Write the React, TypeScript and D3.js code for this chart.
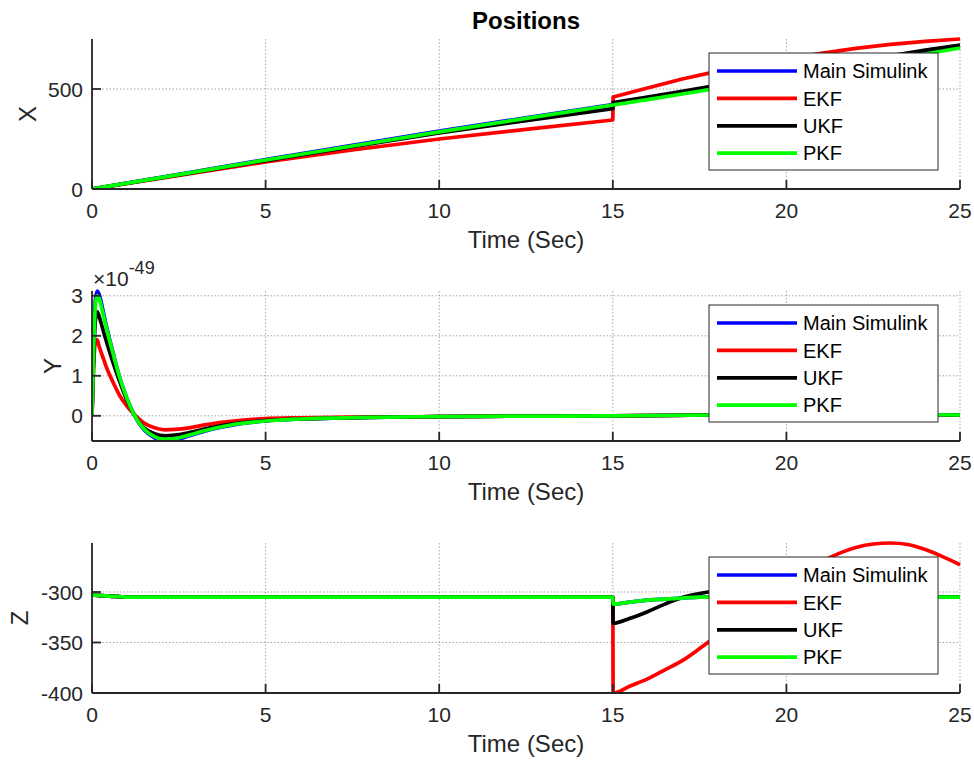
import React from 'react';
import * as d3 from 'd3';

// series names + colours (MATLAB default-ish)
const seriesNames = ['Main Simulink', 'EKF', 'UKF', 'PKF'];
const seriesColors = ['#0000ff', '#ff0000', '#000000', '#00ff00'];

const xTicks = [0, 5, 10, 15, 20, 25];

// X position
const tX = [0, 2.5, 5, 7.5, 10, 12.5, 15, 15.01, 16, 17, 18, 19, 20, 21, 22, 23, 24, 25];
const xMain = [0, 73, 147, 218, 290, 356, 422, 422, 450, 479, 508, 537, 566, 595, 624, 653, 682, 712];
const xEKF = [0, 68, 135, 195, 250, 298, 345, 460, 505, 550, 588, 620, 650, 678, 703, 723, 738, 750];
const xUKF = [0, 71, 142, 212, 280, 342, 402, 432, 460, 489, 518, 548, 578, 608, 637, 666, 694, 720];
const xPKF = [0, 72, 145, 215, 286, 353, 420, 420, 447, 475, 503, 531, 559, 588, 617, 646, 675, 705];

// Y position (x1e-49)
const tY = [0, 0.05, 0.1, 0.15, 0.2, 0.3, 0.4, 0.6, 0.8, 1.0, 1.2, 1.5, 1.8, 2.1, 2.4, 2.8, 3.3, 4, 5, 6, 8, 10, 12, 15, 18, 20, 22, 25];
const yMain = [0, 1.8, 2.9, 3.12, 3.05, 2.7, 2.3, 1.6, 0.95, 0.45, 0.05, -0.35, -0.55, -0.63, -0.6, -0.5, -0.37, -0.24, -0.13, -0.08, -0.04, -0.02, -0.01, 0, 0.02, 0.04, 0.04, 0.02];
const yEKF = [0, 1.3, 1.85, 1.9, 1.75, 1.5, 1.25, 0.85, 0.5, 0.25, 0.05, -0.18, -0.3, -0.35, -0.34, -0.3, -0.22, -0.14, -0.07, -0.05, -0.03, -0.02, -0.01, 0, 0.02, 0.04, 0.04, 0.02];
const yUKF = [0, 1.5, 2.4, 2.6, 2.5, 2.2, 1.9, 1.35, 0.85, 0.4, 0.05, -0.3, -0.45, -0.5, -0.48, -0.42, -0.32, -0.21, -0.12, -0.08, -0.04, -0.02, -0.01, 0, 0.02, 0.04, 0.04, 0.02];
const yPKF = [0, 1.7, 2.8, 3.0, 2.95, 2.62, 2.25, 1.58, 0.95, 0.45, 0.05, -0.33, -0.52, -0.59, -0.57, -0.48, -0.36, -0.23, -0.13, -0.08, -0.04, -0.02, -0.01, 0, 0.02, 0.04, 0.04, 0.02];

// Z position
const tZ = [0, 0.5, 1, 5, 10, 15, 15.01, 15.5, 16, 16.5, 17, 17.5, 18, 18.5, 19, 19.5, 20, 20.5, 21, 21.5, 22, 22.5, 23, 23.5, 24, 24.5, 25];
const zMain = [-303, -304, -305, -305, -305, -305, -312, -310, -308, -307, -306, -305, -305, -305, -305, -305, -305, -305, -305, -305, -305, -305, -305, -305, -305, -305, -305];
const zEKF = [-303, -304, -305, -305, -305, -305, -400, -393, -386, -377, -368, -356, -343, -329, -315, -302, -290, -279, -270, -262, -256, -252.5, -251.5, -253, -258, -265, -273];
const zUKF = [-303, -304, -305, -305, -305, -305, -331, -326, -319.5, -312, -305.5, -301.5, -299, -298, -299, -301, -303, -304.5, -305, -305, -305, -305, -305, -305, -305, -305, -305];
const zPKF = [-303, -304, -305, -305, -305, -305, -312, -310, -308, -307, -306, -305, -305, -305, -305, -305, -305, -305, -305, -305, -305, -305, -305, -305, -305, -305, -305];

const W = 974, H = 761;
const left = 92, right = 960, plotH = 150;
const font = '"Liberation Sans", Arial, Helvetica, sans-serif';
const axisColor = '#262626';

type PlotDef = {
  top: number;
  t: number[];
  series: number[][];
  domain: [number, number];
  yTicks: number[];
  label: string;
  labelX: number;
  curve: any;
  exponent?: boolean;
};

const plots: PlotDef[] = [
  { top: 39, t: tX, series: [xMain, xEKF, xUKF, xPKF], domain: [0, 750], yTicks: [0, 500], label: 'X', labelX: 28, curve: d3.curveLinear },
  { top: 291, t: tY, series: [yMain, yEKF, yUKF, yPKF], domain: [-0.63, 3.12], yTicks: [0, 1, 2, 3], label: 'Y', labelX: 53, curve: d3.curveMonotoneX, exponent: true },
  { top: 543, t: tZ, series: [zMain, zEKF, zUKF, zPKF], domain: [-400, -251.5], yTicks: [-400, -350, -300], label: 'Z', labelX: 20, curve: d3.curveMonotoneX },
];

function Plot({ p, idx }: { p: PlotDef; idx: number }) {
  const bottom = p.top + plotH;
  const x = d3.scaleLinear().domain([0, 25]).range([left, right]);
  const y = d3.scaleLinear().domain(p.domain).range([bottom, p.top]);
  const clipId = 'clip' + idx;
  const line = d3.line<number>()
    .x((_, i) => x(p.t[i]))
    .curve(p.curve);

  const lgX = 709, lgY = p.top + 14, lgW = 229, lgH = 117;

  return (
    <g>
      <defs>
        <clipPath id={clipId}>
          <rect x={left} y={p.top - 2} width={right - left + 2} height={plotH + 2} />
        </clipPath>
      </defs>
      {/* grid */}
      {xTicks.map(t => (
        <line key={'gx' + t} x1={x(t)} x2={x(t)} y1={p.top} y2={bottom}
          stroke="#a6a6a6" strokeWidth={1} strokeDasharray="1.5,2" />
      ))}
      {p.yTicks.map(v => (
        <line key={'gy' + v} x1={left} x2={right} y1={y(v)} y2={y(v)}
          stroke="#a6a6a6" strokeWidth={1} strokeDasharray="1.5,2" />
      ))}
      {/* data */}
      <g clipPath={`url(#${clipId})`}>
        {p.series.map((s, i) => (
          <path key={i} d={line.y((d) => y(d))(s) || ''} fill="none"
            stroke={seriesColors[i]} strokeWidth={3.7} strokeLinejoin="round" />
        ))}
      </g>
      {/* axes */}
      <line x1={left} x2={right} y1={bottom} y2={bottom} stroke={axisColor} strokeWidth={1.8} />
      <line x1={left} x2={left} y1={p.top} y2={bottom} stroke={axisColor} strokeWidth={1.8} />
      {xTicks.map(t => (
        <g key={'tx' + t}>
          <line x1={x(t)} x2={x(t)} y1={bottom} y2={bottom - 9} stroke={axisColor} strokeWidth={1.8} />
          <text x={x(t)} y={bottom + 29} textAnchor="middle" fontSize={21} fill={axisColor} fontFamily={font}>{t}</text>
        </g>
      ))}
      {p.yTicks.map(v => (
        <g key={'ty' + v}>
          <line x1={left} x2={left + 9} y1={y(v)} y2={y(v)} stroke={axisColor} strokeWidth={1.8} />
          <text x={left - 9} y={y(v)} dy="0.36em" textAnchor="end" fontSize={21} fill={axisColor} fontFamily={font}>{v}</text>
        </g>
      ))}
      <text x={(left + right) / 2} y={bottom + 59} textAnchor="middle" fontSize={24} fill={axisColor} fontFamily={font}>Time (Sec)</text>
      <text transform={`translate(${p.labelX},${p.top + plotH / 2}) rotate(-90)`} textAnchor="middle" dy="0.35em"
        fontSize={24} fill={axisColor} fontFamily={font}>{p.label}</text>
      {p.exponent && (
        <text x={93} y={p.top - 5} fontSize={21} fill={axisColor} fontFamily={font}>
          ×10<tspan dy={-12} fontSize={18}>-49</tspan>
        </text>
      )}
      {/* legend */}
      <rect x={lgX} y={lgY} width={lgW} height={lgH} fill="#fff" stroke={axisColor} strokeWidth={1} />
      {seriesNames.map((n, i) => {
        const ry = lgY + 18 + i * 27.4;
        return (
          <g key={n}>
            <line x1={lgX + 8} x2={lgX + 88} y1={ry} y2={ry} stroke={seriesColors[i]} strokeWidth={3.7} />
            <text x={lgX + 94} y={ry} dy="0.36em" fontSize={20} fill="#000" fontFamily={font}>{n}</text>
          </g>
        );
      })}
    </g>
  );
}

export default function App() {
  return (
    <svg width={W} height={H} style={{ position: 'absolute', left: 0, top: 0, background: '#fff' }}>
      <rect width={W} height={H} fill="#fff" />
      <text x={526} y={29} textAnchor="middle" fontSize={24} fontWeight="bold" fill="#000" fontFamily={font}>Positions</text>
      {plots.map((p, i) => <Plot key={i} p={p} idx={i} />)}
    </svg>
  );
}
